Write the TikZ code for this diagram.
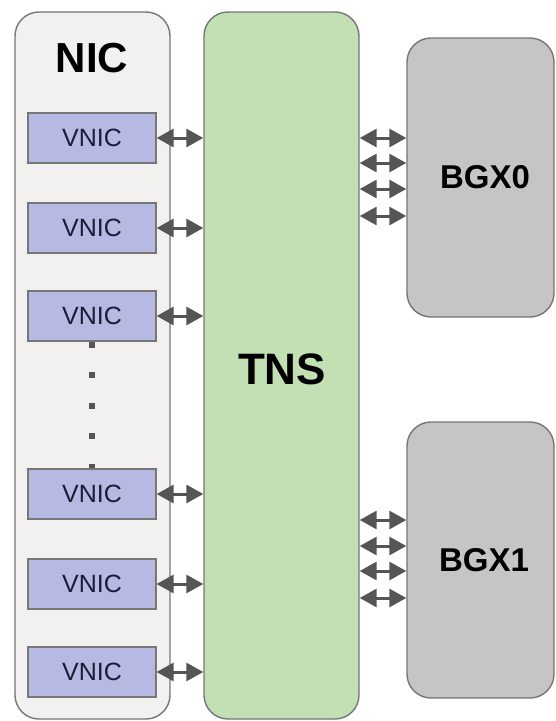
\documentclass[tikz,border=0pt]{standalone}
\usepackage{fontspec}
\setmainfont{Liberation Sans}
\usetikzlibrary{arrows.meta}
\definecolor{nicfill}{HTML}{F2F1EF}
\definecolor{vnicfill}{HTML}{B6BAE2}
\definecolor{tnsfill}{HTML}{C2E0B4}
\definecolor{bgxfill}{HTML}{C6C5C5}
\definecolor{edge}{HTML}{767676}
\definecolor{arrowgrey}{HTML}{555555}
\definecolor{vnictext}{HTML}{1C1C38}
\tikzset{
  panel/.style={draw=edge, line width=1.4pt, rounded corners=24pt, inner sep=0pt},
  vnicbox/.style={draw=edge, line width=1.2pt, fill=vnicfill, minimum width=128pt,
    minimum height=50pt, inner sep=0pt, font=\fontsize{25}{27}\selectfont, text=vnictext},
  link/.style={draw=arrowgrey, line width=3pt,
    {Triangle[length=17pt 0,width=18pt 0]}-{Triangle[length=17pt 0,width=18pt 0]}},
  title/.style={font=\bfseries\fontsize{42}{46}\selectfont},
}
\begin{document}
\begin{tikzpicture}[x=1pt,y=-1pt]
  \useasboundingbox (0,0) rectangle (555,721);
  \fill[white] (0,0) rectangle (555,721);

  % large containers
  \node[panel, fill=nicfill, minimum width=155pt, minimum height=707pt] (nic) at (92.5,365.5) {};
  \node[panel, fill=tnsfill, minimum width=155pt, minimum height=707pt] (tns) at (281.5,365.5) {};
  \node[panel, fill=bgxfill, minimum width=147pt, minimum height=279pt] (bgx0) at (480.5,177.5) {};
  \node[panel, fill=bgxfill, minimum width=147pt, minimum height=276pt] (bgx1) at (480.5,560) {};

  % labels
  \node[title] (niclabel) at (92,58) {NIC};
  \node[font=\bfseries\fontsize{44}{48}\selectfont] (tnslabel) at (282,369) {TNS};
  \node[font=\bfseries\fontsize{33}{36}\selectfont] (bgx0label) at (485,177) {BGX0};
  \node[font=\bfseries\fontsize{33}{36}\selectfont] (bgx1label) at (484,560) {BGX1};

  % virtual NICs
  \node[vnicbox] (v1) at (92,138) {VNIC};
  \node[vnicbox] (v2) at (92,228) {VNIC};
  \node[vnicbox] (v3) at (92,316) {VNIC};
  \node[vnicbox] (v4) at (92,494) {VNIC};
  \node[vnicbox] (v5) at (92,584) {VNIC};
  \node[vnicbox] (v6) at (92,672) {VNIC};

  % ellipsis between the VNIC groups
  \draw[arrowgrey, line width=6pt, dash pattern=on 6pt off 24.5pt]
    (v3.south) -- (v4.north);

  % VNIC to TNS links
  \foreach \v in {v1,v2,v3,v4,v5,v6}
    \draw[link] (\v.east) -- (tns.west |- \v.east);

  % TNS to BGX links
  \foreach \n/\yy in {a/138,b/163,c/189,d/216}{
    \coordinate (p0\n) at (380,\yy);
    \draw[link] (tns.east |- p0\n) -- (bgx0.west |- p0\n);
  }
  \foreach \n/\yy in {a/520,b/546,c/571,d/598}{
    \coordinate (p1\n) at (380,\yy);
    \draw[link] (tns.east |- p1\n) -- (bgx1.west |- p1\n);
  }
\end{tikzpicture}
\end{document}
